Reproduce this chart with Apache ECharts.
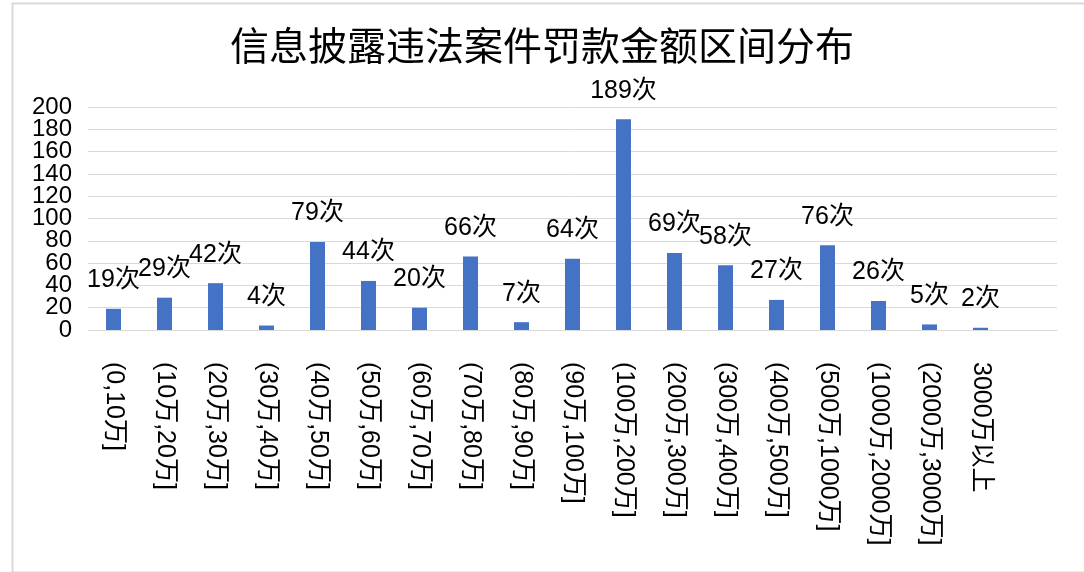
<!DOCTYPE html>
<html>
<head>
<meta charset="utf-8">
<script src="https://cdn.jsdelivr.net/npm/echarts@6/dist/echarts.min.js"></script>
<style>
html,body{margin:0;padding:0;background:#fff;}
#chart{width:1084px;height:572px;}
</style>
</head>
<body>
<div id="chart"></div>
<script>
const titleText = '信息披露违法案件罚款金额区间分布';
const categories = ['(0,10万]','(10万,20万]','(20万,30万]','(30万,40万]','(40万,50万]','(50万,60万]','(60万,70万]','(70万,80万]','(80万,90万]','(90万,100万]','(100万,200万]','(200万,300万]','(300万,400万]','(400万,500万]','(500万,1000万]','(1000万,2000万]','(2000万,3000万]','3000万以上'];
const counts = [19,29,42,4,79,44,20,66,7,64,189,69,58,27,76,26,5,2];
const labelSuffix = '次';
const yMin = 0, yMax = 200, yStep = 20;

const FONT = '"Liberation Sans", Arial, "Noto Sans CJK SC", sans-serif';
const yLabelStyle = {fontFamily: FONT, fontSize: 24, color: '#000', margin: 16, lineHeight: 18, hideOverlap: false};
const chart = echarts.init(document.getElementById('chart'));
chart.setOption({
  backgroundColor: '#fff',
  animation: false,
  title: {
    text: titleText,
    left: 'center',
    top: 21,
    textStyle: {fontFamily: '"Noto Sans CJK SC", sans-serif', fontSize: 39, fontWeight: 'normal', color: '#000'}
  },
  graphic: [{
    type: 'rect', left: 10, top: 1, z: -1,
    shape: {width: 1090, height: 569},
    style: {fill: 'none', stroke: '#d9d9d9', lineWidth: 2}
  }],
  grid: {left: 88, right: 27, top: 107, bottom: 242, containLabel: false},
  xAxis: {
    type: 'category',
    data: categories.concat(['']),
    axisLine: {show: true, lineStyle: {color: '#d9d9d9', width: 1}},
    axisTick: {show: false},
    axisLabel: {
      interval: 0, rotate: -90, margin: 32, hideOverlap: false,
      fontFamily: FONT, fontSize: 25, color: '#000'
    }
  },
  yAxis: [{
    type: 'value', min: yMin, max: yMax, interval: yStep,
    axisLine: {show: false},
    axisTick: {show: false},
    splitLine: {lineStyle: {color: '#d9d9d9', width: 1}},
    axisLabel: Object.assign({showMinLabel: false, showMaxLabel: false}, yLabelStyle)
  }, {
    type: 'value', min: yMin, max: yMax, interval: yMax - yMin, position: 'left',
    axisLine: {show: false},
    axisTick: {show: false},
    splitLine: {show: false},
    axisLabel: Object.assign({showMinLabel: true, showMaxLabel: true}, yLabelStyle)
  }],
  series: [{
    type: 'bar',
    data: counts,
    barWidth: 15,
    itemStyle: {color: '#4472C4'},
    label: {
      show: true, position: 'top', distance: 16,
      fontFamily: FONT, fontSize: 25, color: '#000',
      formatter: p => p.value + labelSuffix
    }
  }]
});
</script>
</body>
</html>
